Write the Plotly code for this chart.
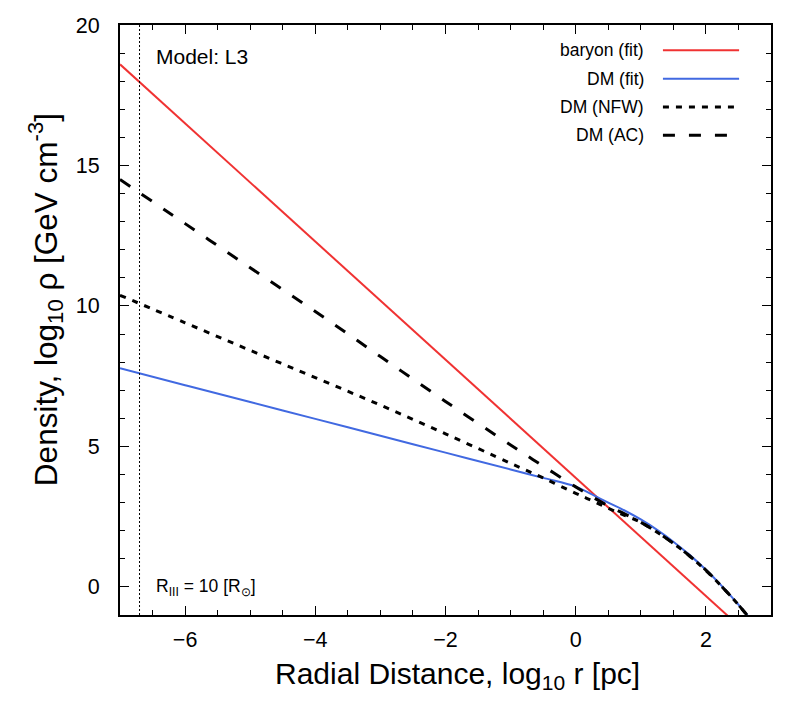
import plotly.graph_objects as go

# ---- data ----
log_r = [-7, -6, -5, -4, -3, -2, -1, -0.5, 0, 0.25, 0.5, 0.75, 1,
         1.25, 1.5, 1.75, 2, 2.25, 2.5, 2.75]

dm_fit = [7.78, 7.18, 6.58, 5.98, 5.38, 4.78, 4.18, 3.88, 3.57, 3.29, 3.00,
          2.72, 2.40, 2.03, 1.61, 1.14, 0.61, 0.02, -0.63, -1.33]
dm_nfw = [10.38, 9.40, 8.42, 7.45, 6.47, 5.45, 4.40, 3.88, 3.33, 3.07, 2.80,
          2.55, 2.30, 1.95, 1.55, 1.10, 0.58, 0.00, -0.64, -1.34]
dm_ac = [14.50, 12.93, 11.36, 9.80, 8.20, 6.60, 5.05, 4.30, 3.56, 3.21, 2.88,
         2.60, 2.30, 1.95, 1.55, 1.10, 0.60, 0.00, -0.64, -1.33]

baryon_r = [-7, 2.75]
baryon_fit = [18.6, -1.9]

r_III = -6.7  # log10 of 10 R_sun in pc

FONT = "Liberation Sans, Arial, Helvetica, sans-serif"

fig = go.Figure()

fig.add_trace(go.Scatter(x=baryon_r, y=baryon_fit, mode="lines",
                         line=dict(color="#f03232", width=2)))
fig.add_trace(go.Scatter(x=log_r, y=dm_fit, mode="lines", line_shape="spline",
                         line=dict(color="#4169e1", width=2)))
fig.add_trace(go.Scatter(x=log_r, y=dm_nfw, mode="lines", line_shape="spline",
                         line=dict(color="black", width=3, dash="6px,7px")))
fig.add_trace(go.Scatter(x=log_r, y=dm_ac, mode="lines", line_shape="spline",
                         line=dict(color="black", width=3, dash="12px,14px")))
# empty trace so the mirrored (top/right) axes get drawn with their minor ticks
fig.add_trace(go.Scatter(x=[None], y=[None], xaxis="x2", yaxis="y2",
                         hoverinfo="skip"))

fig.add_vline(x=r_III, line=dict(color="black", width=1, dash="2px,2px"))

# ---- hand-made legend (text left of sample, gnuplot style) ----
legend_items = [
    ("baryon (fit)", "#f03232", 2, "solid"),
    ("DM (fit)", "#4169e1", 2, "solid"),
    ("DM (NFW)", "black", 3, "6px,7px"),
    ("DM (AC)", "black", 3, "12px,14px"),
]
row_y = [0.957, 0.909, 0.861, 0.813]
for (name, col, w, d), yy in zip(legend_items, row_y):
    fig.add_annotation(x=0.808, y=yy, xref="paper", yref="paper", text=name,
                       showarrow=False, xanchor="right", yanchor="middle",
                       font=dict(size=17.5, color="black", family=FONT))
    fig.add_shape(type="line", xref="paper", yref="paper",
                  x0=0.834, x1=0.951, y0=yy, y1=yy,
                  line=dict(color=col, width=w, dash=d))

fig.add_annotation(x=0.052, y=0.946, xref="paper", yref="paper",
                   text="Model: L3", showarrow=False,
                   xanchor="left", yanchor="middle",
                   font=dict(size=21, color="black", family=FONT))
fig.add_annotation(x=0.052, y=0.047, xref="paper", yref="paper",
                   text="R<sub>III</sub> = 10 [R<sub>⊙</sub>]", showarrow=False,
                   xanchor="left", yanchor="middle",
                   font=dict(size=17.5, color="black", family=FONT))

# axis titles as annotations (gnuplot puts them slightly off-centre)
fig.add_annotation(x=0.518, y=-0.102, xref="paper", yref="paper",
                   text="Radial Distance, log<sub>10</sub> r [pc]",
                   showarrow=False, xanchor="center", yanchor="middle",
                   font=dict(size=30, color="black", family=FONT))
fig.add_annotation(x=-0.114, y=0.535, xref="paper", yref="paper",
                   text="Density, log<sub>10</sub> ρ [GeV cm<sup>-3</sup>]",
                   showarrow=False, textangle=-90,
                   xanchor="center", yanchor="middle",
                   font=dict(size=31.5, color="black", family=FONT))

axis_common = dict(
    showgrid=False, zeroline=False, showline=True, linecolor="black",
    linewidth=2, ticks="inside", ticklen=9, tickwidth=1, automargin=False,
    tickcolor="black", tickfont=dict(size=21.5, color="black", family=FONT),
)

# page body adds an 8px offset, so the figure is a bit smaller than the window
fig.update_layout(
    width=801, height=701,
    paper_bgcolor="white", plot_bgcolor="white",
    showlegend=False,
    margin=dict(l=112, r=38, t=17, b=94),
    font=dict(family=FONT, color="black"),
    xaxis=dict(
        range=[-7, 3], tickmode="array", tickvals=[-6, -4, -2, 0, 2],
        minor=dict(ticks="inside", dtick=0.5, ticklen=5, tickcolor="black"),
        ticklabelstandoff=4,
        **axis_common,
    ),
    yaxis=dict(
        range=[-1, 20], tickmode="array", tickvals=[0, 5, 10, 15, 20],
        minor=dict(ticks="inside", dtick=1, ticklen=5, tickcolor="black"),
        ticklabelstandoff=14,
        **axis_common,
    ),
    xaxis2=dict(
        range=[-7, 3], overlaying="x", side="top", showticklabels=False,
        tickmode="array", tickvals=[-6, -4, -2, 0, 2],
        minor=dict(ticks="inside", dtick=0.5, ticklen=5, tickcolor="black"),
        **axis_common,
    ),
    yaxis2=dict(
        range=[-1, 20], overlaying="y", side="right", showticklabels=False,
        tickmode="array", tickvals=[0, 5, 10, 15, 20],
        minor=dict(ticks="inside", dtick=1, ticklen=5, tickcolor="black"),
        **axis_common,
    ),
)

fig.write_html("out.html")
